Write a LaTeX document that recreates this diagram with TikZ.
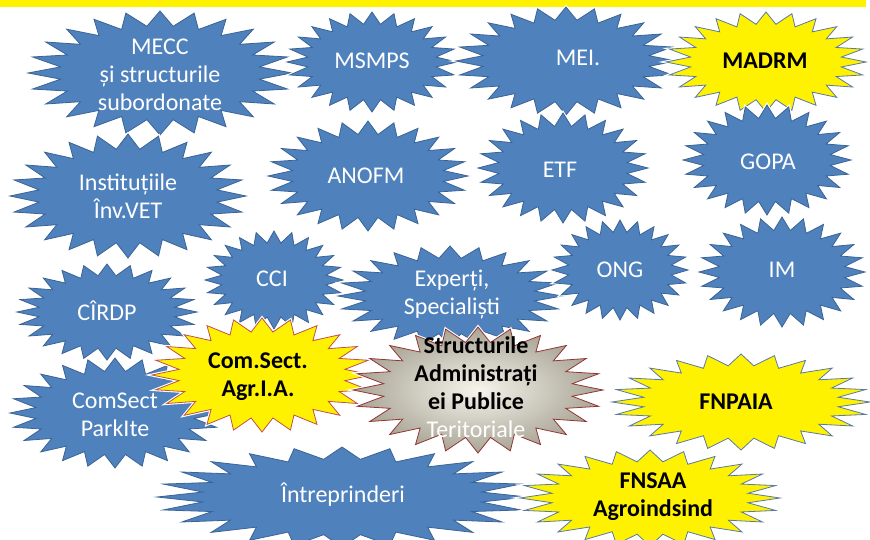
\documentclass[tikz,border=0pt]{standalone}
\usepackage{fontspec}
\setmainfont{Carlito}
\definecolor{sealblue}{HTML}{4F81BD}
\definecolor{sealedge}{HTML}{3B6496}
\definecolor{yedge}{HTML}{5A7AA6}
\definecolor{redge}{HTML}{C0504D}
\definecolor{dredge}{HTML}{943634}
\definecolor{grayin}{HTML}{F6F4EC}
\definecolor{grayout}{HTML}{A8A495}
\newcommand\seal[5]{%
  \path[#1] plot[samples at={0,...,47}, variable=\k]
    ({#2+#4*(1-0.24*mod(\k,2))*cos(\k*7.5)}, {#3+#5*(1-0.24*mod(\k,2))*sin(\k*7.5)}) -- cycle;}
\tikzset{
  halo/.style={preaction={draw=white, line width=3pt}},
  blueseal/.style={halo, fill=sealblue, draw=sealedge, line width=0.8pt},
  yellowseal/.style={halo, fill=yellow, draw=yedge, line width=0.8pt},
  redseal/.style={halo, fill=yellow, draw=redge, line width=0.8pt},
  grayseal/.style={halo, inner color=grayin, outer color=grayout, draw=dredge, line width=0.8pt},
  bt/.style={text=white, font=\fontsize{24}{28}\selectfont, align=center, inner sep=0pt},
  yt/.style={text=black, font=\fontsize{24}{28}\selectfont\bfseries, align=center, inner sep=0pt},
}
\begin{document}
\begin{tikzpicture}[x=1pt, y=-1pt]
\useasboundingbox (0,0) rectangle (870,539);
\fill[yellow] (0,0) rectangle (866,7);
% row 1
\seal{blueseal}{160}{73}{132}{62}
\node[bt] (mecc) at (160,75) {MECC\\ și structurile\\ subordonate};
\seal{blueseal}{372}{62}{85}{50}
\node[bt] (msmps) at (372,61) {MSMPS};
\seal{blueseal}{566}{61}{110}{54}
\node[bt] (mei) at (578,58) {MEI.};
\seal{yellowseal}{766}{62}{100}{50}
\node[yt] (madrm) at (765,61) {MADRM};
% row 2
\seal{blueseal}{128}{196}{118}{62}
\node[bt] (inst) at (128,196) {Instituțiile\\ Înv.VET};
\seal{blueseal}{368}{176}{100}{55}
\node[bt] (anofm) at (366,176) {ANOFM};
\seal{blueseal}{563}{168}{85}{55}
\node[bt] (etf) at (560,170) {ETF};
\seal{blueseal}{767}{160}{84}{55}
\node[bt] (gopa) at (768,162) {GOPA};
% row 3
\seal{blueseal}{107}{312}{90}{48}
\node[bt] (cirdp) at (107,311) {CÎRDP};
\seal{blueseal}{274}{280}{69}{49}
\node[bt] (cci) at (272,279) {CCI};
\seal{blueseal}{450}{296}{112}{50}
\node[bt] (exp) at (452,294) {Experți,\\ Specialiști};
\seal{blueseal}{620}{270}{68}{50}
\node[bt] (ong) at (620,270) {ONG};
\seal{blueseal}{782}{272}{83}{55}
\node[bt] (im) at (782,270) {IM};
% row 4
\seal{blueseal}{115}{413}{105}{55}
\node[bt] (parkite) at (115,415) {ComSect\\ ParkIte};
\seal{redseal}{262}{375}{110}{57}
\node[yt] (agria) at (258,377) {Com.Sect.\\ Agr.I.A.};
\seal{grayseal}{478}{390}{125}{63}
\node[yt, font=\fontsize{24}{28}\selectfont] (sapt) at (476,387)
  {\textbf{Structurile}\\ \textbf{Administrați}\\ \textbf{ei Publice}\\ \textcolor{white}{Teritoriale}};
\seal{yellowseal}{741}{402}{129}{48}
\node[yt] (fnpaia) at (736,402) {FNPAIA};
% row 5
\seal{blueseal}{342}{497}{185}{50}
\node[bt] (intr) at (343,495) {Întreprinderi};
\seal{yellowseal}{650}{498}{130}{48}
\node[yt] (fnsaa) at (653,497) {FNSAA\\ Agroindsind};
\end{tikzpicture}
\end{document}
